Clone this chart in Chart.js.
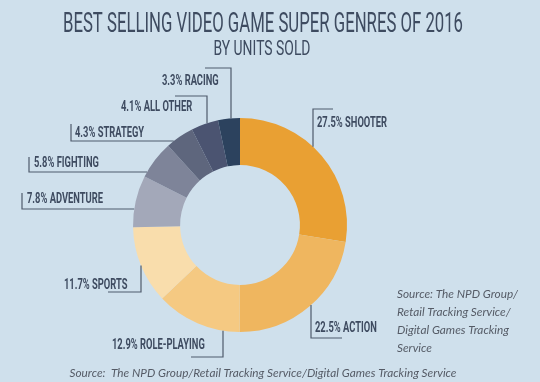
<!DOCTYPE html>
<html>
<head>
<meta charset="utf-8">
<script src="https://cdn.jsdelivr.net/npm/chart.js@4/dist/chart.umd.min.js"></script>
<style>
  html, body { margin: 0; padding: 0; background: #cfe0ec; }
  canvas { display: block; }
</style>
</head>
<body>
<canvas id="genreChart" width="540" height="382"></canvas>
<script>
// Best selling video game super genres of 2016, share of units sold (%)
const genres = ['Shooter', 'Action', 'Role-Playing', 'Sports', 'Adventure', 'Fighting', 'Strategy', 'All Other', 'Racing'];
const shares = [27.5, 22.5, 12.9, 11.7, 7.8, 5.8, 4.3, 4.1, 3.3];

const titleText = 'BEST SELLING VIDEO GAME SUPER GENRES OF 2016';
const subtitleText = 'BY UNITS SOLD';
const sourceLines = ['Source: The NPD Group/', 'Retail Tracking Service/', 'Digital Games Tracking', 'Service'];
const footerText = 'Source:  The NPD Group/Retail Tracking Service/Digital Games Tracking Service';

// slice colours, same order as genres
const sliceColors = ['#e9a033', '#efb65f', '#f5c982', '#f9ddac', '#a3a8b9', '#7e8499', '#5e667d', '#4b5471', '#2c425e'];

// where each callout sits: text anchor + bracket line, last leg runs to the ring
const calloutSpots = [
    { tx: 317, ty: 127, line: [[333, 109], [313, 109]], to: 'v' },
    { tx: 315, ty: 332, line: [[342, 338], [311, 338]], to: 'v' },
    { tx: 112, ty: 349, line: [[191, 357], [223, 357]], to: 'v' },
    { tx: 64,  ty: 289, line: [[108, 292], [141, 292]], to: 'v' },
    { tx: 27,  ty: 203, line: [[22, 193], [22, 209]], to: 'h' },
    { tx: 34,  ty: 167, line: [[29, 157], [29, 172]], to: 'h' },
    { tx: 75,  ty: 137, line: [[71, 124], [71, 141]], to: 'h' },
    { tx: 121, ty: 111, line: [[175, 96], [207, 96]], to: 'v' },
    { tx: 162, ty: 85,  line: [[205, 68], [231, 68]], to: 'v' }
];

const inkColor = '#3e4b60';

function fitScale(ctx, font, sample, width) {
    ctx.font = font;
    return width / ctx.measureText(sample).width;
}

// draws text squeezed horizontally (the original uses a tall condensed face)
function squeezedText(ctx, str, x, y, font, sx, color, align) {
    ctx.save();
    ctx.font = font;
    ctx.fillStyle = color;
    ctx.textAlign = 'left';
    ctx.textBaseline = 'alphabetic';
    const w = ctx.measureText(str).width * sx;
    const left = align === 'center' ? x - w / 2 : x;
    ctx.translate(left, y);
    ctx.scale(sx, 1);
    ctx.fillText(str, 0, 0);
    ctx.restore();
}

const decorPlugin = {
    id: 'decor',
    beforeDraw(chart) {
        const ctx = chart.ctx;
        ctx.save();
        ctx.fillStyle = '#cfe0ec';
        ctx.fillRect(0, 0, chart.width, chart.height);
        ctx.restore();
    },
    afterDraw(chart) {
        const ctx = chart.ctx;
        const arcs = chart.getDatasetMeta(0).data;
        const cx = arcs[0].x, cy = arcs[0].y, R = arcs[0].outerRadius;

        // titles
        const titleFont = '400 28px Roboto';
        squeezedText(ctx, titleText, 263, 32, titleFont, fitScale(ctx, titleFont, titleText, 400), inkColor, 'center');
        const subFont = '400 20px Roboto';
        squeezedText(ctx, subtitleText, 262, 55, subFont, fitScale(ctx, subFont, subtitleText, 97), inkColor, 'center');

        // callouts
        const labelFont = 'bold 14px Roboto';
        const labelScale = fitScale(ctx, labelFont, '27.5% SHOOTER', 70);
        ctx.save();
        ctx.strokeStyle = '#4f5a6c';
        ctx.lineWidth = 1.2;
        genres.forEach((g, i) => {
            const spot = calloutSpots[i];
            const pts = spot.line.slice();
            const [lx, ly] = pts[pts.length - 1];
            if (spot.to === 'v') {
                const dy = Math.sqrt(Math.max(0, R * R - (lx - cx) * (lx - cx)));
                pts.push([lx, ly < cy ? cy - dy : cy + dy]);
            } else {
                const dx = Math.sqrt(Math.max(0, R * R - (ly - cy) * (ly - cy)));
                pts.push([lx < cx ? cx - dx : cx + dx, ly]);
            }
            ctx.beginPath();
            pts.forEach(([x, y], k) => k ? ctx.lineTo(x, y) : ctx.moveTo(x, y));
            ctx.stroke();
            squeezedText(ctx, shares[i] + '% ' + g.toUpperCase(), spot.tx, spot.ty, labelFont, labelScale, inkColor, 'left');
        });
        ctx.restore();

        // source notes
        const srcFont = 'italic 12px Lato';
        const srcScale = fitScale(ctx, srcFont, sourceLines[0], 121);
        sourceLines.forEach((line, i) => {
            squeezedText(ctx, line, 397, 298 + i * 18, srcFont, srcScale, '#555b66', 'left');
        });
        const footFont = 'italic 12px Lato';
        squeezedText(ctx, footerText, 263, 377, footFont, fitScale(ctx, footFont, footerText, 387), '#555b66', 'center');
    }
};

new Chart(document.getElementById('genreChart'), {
    type: 'doughnut',
    data: {
        labels: genres,
        datasets: [{
            data: shares,
            backgroundColor: sliceColors,
            borderWidth: 0
        }]
    },
    options: {
        responsive: false,
        animation: false,
        cutout: '56%',
        layout: { padding: { left: 133, right: 193, top: 118, bottom: 50 } },
        plugins: {
            legend: { display: false },
            tooltip: { enabled: false }
        }
    },
    plugins: [decorPlugin]
});
</script>
</body>
</html>
